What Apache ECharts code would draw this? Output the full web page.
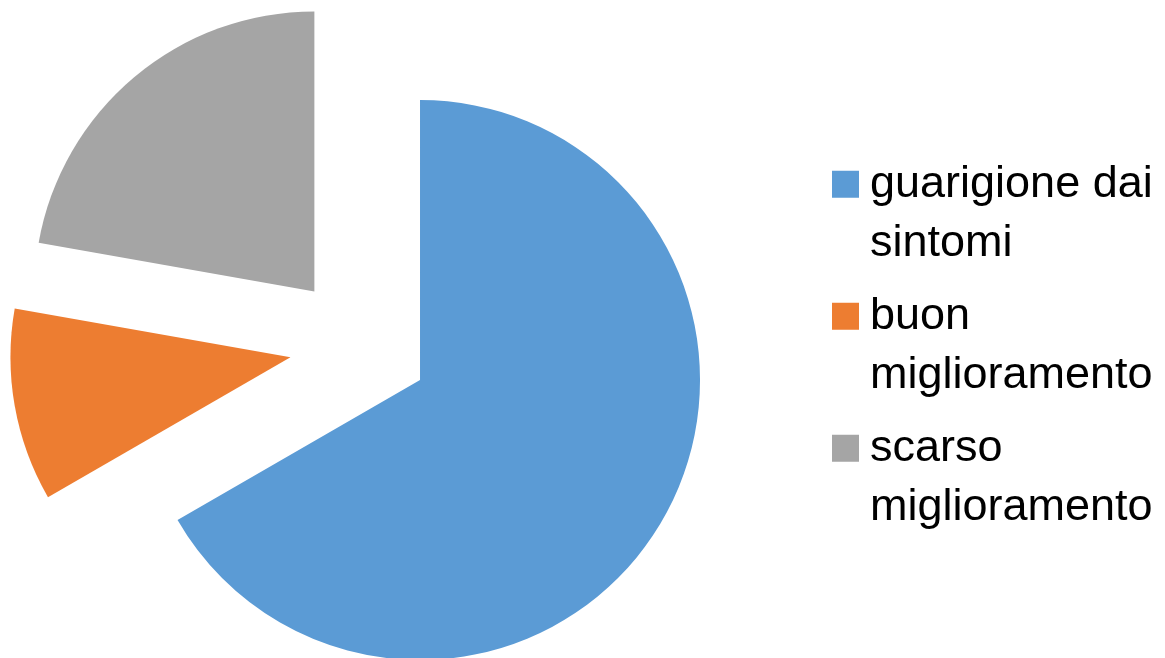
<!DOCTYPE html>
<html>
<head>
<meta charset="utf-8">
<script src="https://cdn.jsdelivr.net/npm/echarts@6/dist/echarts.min.js"></script>
<style>
  html, body { margin: 0; padding: 0; background: #ffffff; }
  #chart { width: 1165px; height: 658px; }
</style>
</head>
<body>
<div id="chart"></div>
<script>
// Data
const categories = ['guarigione dai sintomi', 'buon miglioramento', 'scarso miglioramento'];
const legendLabels = ['guarigione dai\nsintomi', 'buon\nmiglioramento', 'scarso\nmiglioramento'];
const values = [6, 1, 2];
const colors = ['#5B9BD5', '#ED7D31', '#A5A5A5'];

const LINE = 59.5;

const chart = echarts.init(document.getElementById('chart'), null, { renderer: 'canvas' });
chart.setOption({
  animation: false,
  backgroundColor: '#ffffff',
  color: colors,
  legend: {
    orient: 'vertical',
    left: 832,
    top: 95,
    padding: 0,
    itemWidth: 27,
    itemHeight: 27,
    itemGap: 132 - 3 * LINE,
    icon: 'rect',
    selectedMode: false,
    data: categories,
    formatter: function (name) {
      // leading empty line keeps the icon level with the first text line
      return '\n' + legendLabels[categories.indexOf(name)];
    },
    textStyle: {
      fontFamily: 'Liberation Sans',
      fontSize: 45,
      lineHeight: LINE,
      color: '#000000',
      padding: [0, 0, 0, 6]
    }
  },
  series: [{
    type: 'pie',
    center: [359.4, 345],
    radius: [0, 280],
    startAngle: 90,
    clockwise: true,
    selectedMode: 'multiple',
    selectedOffset: 70,
    avoidLabelOverlap: false,
    label: { show: false },
    labelLine: { show: false },
    itemStyle: { borderWidth: 0 },
    emphasis: { disabled: true },
    data: categories.map(function (c, i) {
      return { name: c, value: values[i], selected: true };
    })
  }]
});
</script>
</body>
</html>
